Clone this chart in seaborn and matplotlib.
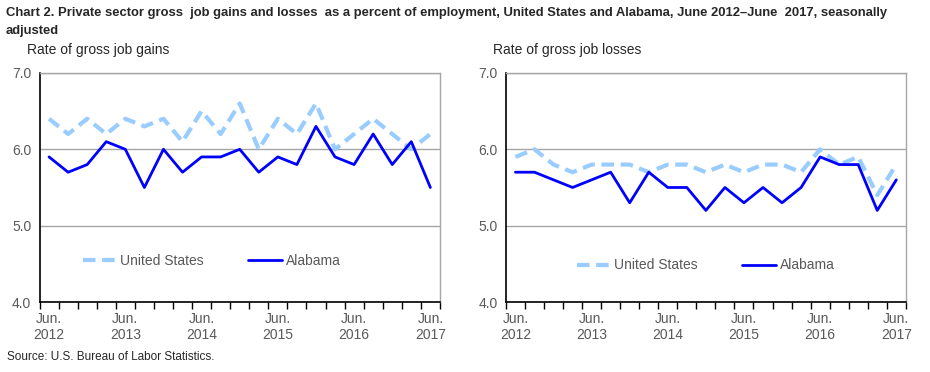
import numpy as np
import pandas as pd
import matplotlib
matplotlib.use("Agg")
import matplotlib.pyplot as plt
import seaborn as sns

# quarterly, June 2012 - June 2017
QUARTERS = pd.period_range("2012Q2", "2017Q2", freq="Q").astype(str).tolist()
TICK_LABELS = ["Jun.\n2012", "Jun.\n2013", "Jun.\n2014", "Jun.\n2015", "Jun.\n2016", "Jun.\n2017"]

US_GAINS = [6.4, 6.2, 6.4, 6.2, 6.4, 6.3, 6.4, 6.1, 6.5, 6.2, 6.6,
            6.0, 6.4, 6.2, 6.6, 6.0, 6.2, 6.4, 6.2, 6.0, 6.2]
AL_GAINS = [5.9, 5.7, 5.8, 6.1, 6.0, 5.5, 6.0, 5.7, 5.9, 5.9, 6.0,
            5.7, 5.9, 5.8, 6.3, 5.9, 5.8, 6.2, 5.8, 6.1, 5.5]
US_LOSSES = [5.9, 6.0, 5.8, 5.7, 5.8, 5.8, 5.8, 5.7, 5.8, 5.8, 5.7,
             5.8, 5.7, 5.8, 5.8, 5.7, 6.0, 5.8, 5.9, 5.4, 5.8]
AL_LOSSES = [5.7, 5.7, 5.6, 5.5, 5.6, 5.7, 5.3, 5.7, 5.5, 5.5, 5.2,
             5.5, 5.3, 5.5, 5.3, 5.5, 5.9, 5.8, 5.8, 5.2, 5.6]

sns.set_style("white")
plt.rcParams['font.family'] = ['Liberation Sans', 'DejaVu Sans']

TEXT_GRAY = "#595959"
COLORS = {"United States": "#99CCFF", "Alabama": "#0000FF"}
FS = 10


def make_frame(us, al):
    n = len(QUARTERS)
    return pd.DataFrame({
        "pos": list(range(n)) * 2,
        "quarter": QUARTERS * 2,
        "value": us + al,
        "series": ["United States"] * n + ["Alabama"] * n,
    })


def draw_panel(ax, df, legend_anchor):
    for name, lw, ls in [("United States", 3, (0, (3, 1.6))), ("Alabama", 2, "-")]:
        sub = df[df["series"] == name]
        sns.lineplot(data=sub, x="pos", y="value", ax=ax, color=COLORS[name],
                     linewidth=lw, linestyle=ls, label=name)
    n = len(QUARTERS)
    ax.set_xlim(-0.5, n - 0.5)
    ax.set_ylim(4.0, 7.0)
    ax.set_yticks([4.0, 5.0, 6.0, 7.0])
    ax.set_yticklabels(["4.0", "5.0", "6.0", "7.0"])
    ax.yaxis.grid(True, color="#A6A6A6", linewidth=1)
    ax.set_axisbelow(True)
    # boundary ticks, labels centered on the June quarters
    ax.set_xticks(np.arange(-0.5, n, 1.0))
    ax.set_xticklabels([])
    ax.set_xticks(range(0, n, 4), minor=True)
    ax.set_xticklabels(TICK_LABELS, minor=True)
    ax.tick_params(axis="x", which="major", direction="out", length=5, width=1,
                   color="black", bottom=True)
    ax.tick_params(axis="x", which="minor", length=0, pad=7, labelsize=FS,
                   labelcolor=TEXT_GRAY)
    ax.tick_params(axis="y", length=0, pad=6, labelsize=FS, labelcolor=TEXT_GRAY)
    ax.set_xlabel("")
    ax.set_ylabel("")
    for side in ["left", "bottom"]:
        ax.spines[side].set_color("black")
        ax.spines[side].set_linewidth(1.2)
    for side in ["top", "right"]:
        ax.spines[side].set_color("#A6A6A6")
        ax.spines[side].set_linewidth(1)
    leg = ax.legend(ncol=2, frameon=False, loc="center", bbox_to_anchor=legend_anchor,
                    handlelength=2.4, handletextpad=0.3, columnspacing=3.2, fontsize=FS)
    for t in leg.get_texts():
        t.set_color(TEXT_GRAY)


fig = plt.figure(figsize=(9.3, 3.72), dpi=100)
ax1 = fig.add_axes([0.0425, 0.188, 0.4305, 0.616])
ax2 = fig.add_axes([0.544, 0.188, 0.430, 0.616])

draw_panel(ax1, make_frame(US_GAINS, AL_GAINS), (0.43, 0.18))
draw_panel(ax2, make_frame(US_LOSSES, AL_LOSSES), (0.50, 0.16))

fig.text(0.006, 0.98, "Chart 2. Private sector gross  job gains and losses  as a percent of employment, "
         "United States and Alabama, June 2012\u2013June  2017, seasonally\nadjusted",
         fontsize=9.4, fontweight="bold", va="top", ha="left", linespacing=1.6)
fig.text(0.029, 0.865, "Rate of gross job gains", fontsize=FS, va="center", ha="left")
fig.text(0.530, 0.865, "Rate of gross job losses", fontsize=FS, va="center", ha="left")
fig.text(0.008, 0.04, "Source: U.S. Bureau of Labor Statistics.", fontsize=8.5, va="center", ha="left")

fig.savefig("out.png", dpi=100)
